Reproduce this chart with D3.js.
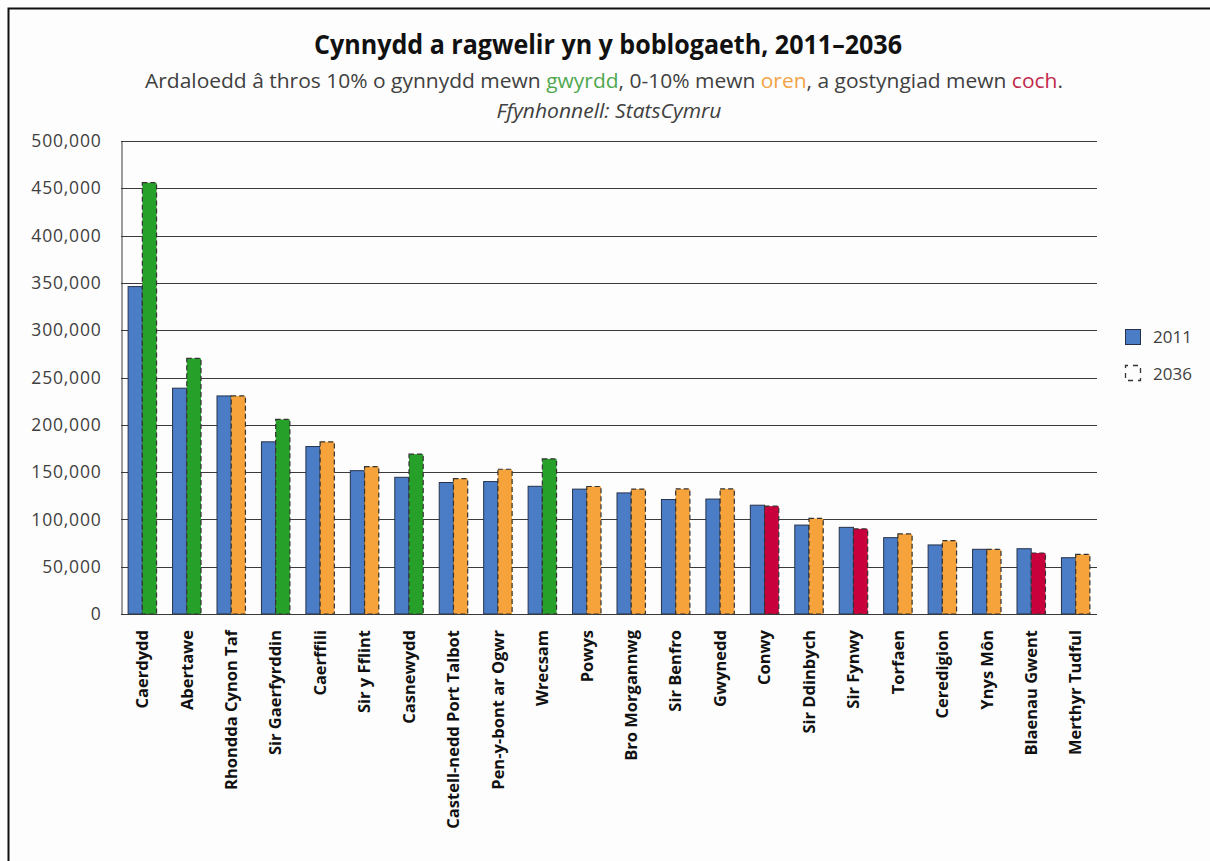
<!DOCTYPE html>
<html><head><meta charset="utf-8">
<script src="https://cdn.jsdelivr.net/npm/d3@7/dist/d3.min.js"></script>
<style>
html,body{margin:0;padding:0;background:#fdfdfd;}
svg{display:block;}
</style></head>
<body>
<svg id="chart" width="1210" height="861"></svg>
<script>
const categories = ["Caerdydd","Abertawe","Rhondda Cynon Taf","Sir Gaerfyrddin","Caerffili","Sir y Fflint","Casnewydd","Castell-nedd Port Talbot","Pen-y-bont ar Ogwr","Wrecsam","Powys","Bro Morgannwg","Sir Benfro","Gwynedd","Conwy","Sir Ddinbych","Sir Fynwy","Torfaen","Ceredigion","Ynys Môn","Blaenau Gwent","Merthyr Tudful"];
const pop2011 = [346100,238700,230500,182000,177000,151500,144500,139000,140000,135000,132000,128000,121000,121500,115000,94000,91600,80700,73000,68400,69000,59500];
const pop2036 = [455900,270300,230500,205700,182000,155800,169000,143100,153000,164000,134800,132100,132200,132200,114000,101000,90000,84600,77500,68400,64500,63000];
const yTicks = [0,50000,100000,150000,200000,250000,300000,350000,400000,450000,500000];
const seriesNames = ["2011","2036"];

const svg = d3.select("#chart");
const W = 1210, H = 861;
const m = {left:121, right:1097, top:141, bottom:614};

// frame
svg.append("rect").attr("x",0).attr("y",0).attr("width",W).attr("height",H).attr("fill","#fdfdfd");
svg.append("path").attr("d",`M8.5,${H} V8.5 H${W}`).attr("fill","none").attr("stroke","#111").attr("stroke-width",2);

const x = d3.scaleBand().domain(categories).range([m.left,m.right]).paddingInner(0.36).paddingOuter(0.16);
const x1 = d3.scaleBand().domain(seriesNames).range([0,x.bandwidth()]);
const y = d3.scaleLinear().domain([0,500000]).range([m.bottom,m.top]);

function growthColor(a,b){
  const g = (b-a)/a;
  if (g > 0.10) return "#27a02a";
  if (g >= 0) return "#f5a33a";
  return "#c8003c";
}

// gridlines
svg.append("g").selectAll("line").data(yTicks).join("line")
  .attr("x1",m.left).attr("x2",m.right)
  .attr("y1",d=>Math.round(y(d))+0.5).attr("y2",d=>Math.round(y(d))+0.5)
  .attr("stroke","#3a3a3a").attr("stroke-width",1);

// y axis
const yAxis = d3.axisLeft(y).tickValues(yTicks).tickSize(0).tickPadding(20)
  .tickFormat(d=>d3.format(",")(d));
const gy = svg.append("g").attr("transform",`translate(${m.left+0.5},0)`).call(yAxis);
gy.select(".domain").attr("stroke","#3a3a3a");
gy.selectAll("text").attr("font-family","'Open Sans',sans-serif").attr("font-size",17.5)
  .attr("letter-spacing","0.8px").attr("fill","#404040");

// bars
const g = svg.append("g");
categories.forEach((c,i)=>{
  g.append("rect")
    .attr("x",x(c)+x1("2011")).attr("y",y(pop2011[i]))
    .attr("width",x1.bandwidth()).attr("height",y(0)-y(pop2011[i]))
    .attr("fill","#4b7dc7").attr("stroke","#26324a").attr("stroke-width",1);
  g.append("rect")
    .attr("x",x(c)+x1("2036")).attr("y",y(pop2036[i]))
    .attr("width",x1.bandwidth()).attr("height",y(0)-y(pop2036[i]))
    .attr("fill",growthColor(pop2011[i],pop2036[i])).attr("stroke","#333")
    .attr("stroke-width",1.2).attr("stroke-dasharray","5,3");
});

// x axis line
svg.append("line").attr("x1",m.left).attr("x2",m.right)
  .attr("y1",m.bottom+0.5).attr("y2",m.bottom+0.5).attr("stroke","#3a3a3a");

// x labels
const xAxis = d3.axisBottom(x).tickSize(0).tickPadding(0);
const gx = svg.append("g").attr("transform",`translate(0,${m.bottom})`).call(xAxis);
gx.select(".domain").remove();
gx.selectAll("text")
  .attr("transform","rotate(-90)")
  .attr("x",-16).attr("y",0).attr("dy","0.35em")
  .attr("text-anchor","end")
  .attr("font-family","'Open Sans',sans-serif").attr("font-size",16.5).attr("font-weight",700)
  .attr("fill","#111");

// title
svg.append("text").attr("x",608).attr("y",54).attr("text-anchor","middle")
  .attr("font-family","'Open Sans',sans-serif").attr("font-weight",700).attr("font-size",26)
  .attr("fill","#111").attr("textLength",588).attr("lengthAdjust","spacingAndGlyphs")
  .text("Cynnydd a ragwelir yn y boblogaeth, 2011–2036");

const sub = svg.append("text").attr("x",604).attr("y",88).attr("text-anchor","middle")
  .attr("font-family","'Open Sans',sans-serif").attr("font-size",20).attr("fill","#404040")
  .attr("textLength",918).attr("lengthAdjust","spacingAndGlyphs");
sub.append("tspan").text("Ardaloedd â thros 10% o gynnydd mewn ");
sub.append("tspan").attr("fill","#4fa84f").text("gwyrdd");
sub.append("tspan").text(", 0-10% mewn ");
sub.append("tspan").attr("fill","#f0a445").text("oren");
sub.append("tspan").text(", a gostyngiad mewn ");
sub.append("tspan").attr("fill","#c0284a").text("coch");
sub.append("tspan").text(".");

svg.append("text").attr("x",609).attr("y",118).attr("text-anchor","middle")
  .attr("font-family","'Open Sans',sans-serif").attr("font-style","italic").attr("font-size",20)
  .attr("fill","#404040").attr("textLength",225).attr("lengthAdjust","spacingAndGlyphs")
  .text("Ffynhonnell: StatsCymru");

// legend
const lg = svg.append("g");
lg.append("rect").attr("x",1125.5).attr("y",329.5).attr("width",15).attr("height",15)
  .attr("fill","#4b7dc7").attr("stroke","#26324a");
lg.append("text").attr("x",1153).attr("y",343).attr("font-family","'Open Sans',sans-serif")
  .attr("font-size",17).attr("fill","#404040").text(seriesNames[0]);
lg.append("rect").attr("x",1125.5).attr("y",365.5).attr("width",15).attr("height",15)
  .attr("fill","none").attr("stroke","#333").attr("stroke-width",1.3).attr("stroke-dasharray","5,5").attr("stroke-dashoffset",2.5);
lg.append("text").attr("x",1153).attr("y",380).attr("font-family","'Open Sans',sans-serif")
  .attr("font-size",17).attr("fill","#404040").text(seriesNames[1]);
</script>
</body></html>
